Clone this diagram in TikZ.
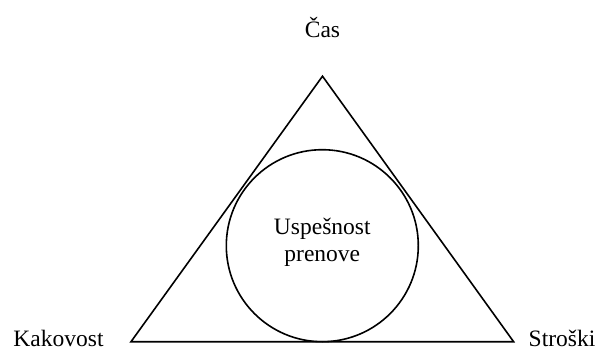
\documentclass[tikz,border=0pt]{standalone}
\usepackage{fontspec}
\setmainfont{Liberation Serif}
\begin{document}
\begin{tikzpicture}[x=1pt,y=-1pt,
  edge/.style={line width=1.6pt, line join=miter},
  lbl/.style={font=\fontsize{23.5}{27}\selectfont, inner sep=0pt}]
\useasboundingbox (0,0) rectangle (596,350);
% corners of the triangle
\coordinate (top) at (322.5,76.2);
\coordinate (left) at (131,341.7);
\coordinate (right) at (513.6,341.7);
\draw[edge] (top) -- (right) -- (left) -- cycle;
% inscribed circle
\node[edge, draw, circle, minimum size=192pt, inner sep=0pt] (goal) at (322.3,245.7) {};
\node[lbl, align=center] (goaltext) at (322.3,242) {Uspešnost\\prenove};
% corner labels
\node[lbl, anchor=base] (time) at (322.5,37.7) {Čas};
\node[lbl, anchor=base] (quality) at (58.5,346) {Kakovost};
\node[lbl, anchor=base] (cost) at (562,346) {Stroški};
\end{tikzpicture}
\end{document}
